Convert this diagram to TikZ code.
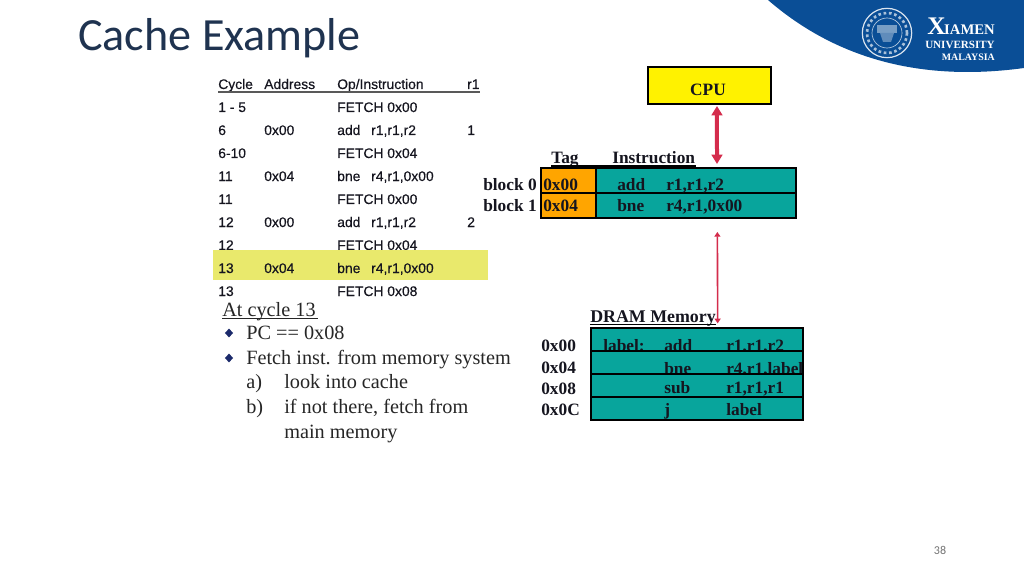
\documentclass[tikz,border=0pt]{standalone}
\usepackage{fontspec}
\setmainfont{Liberation Serif}
\newfontfamily\tabf[FakeBold=0.35]{Liberation Sans}
\newfontfamily\titlef{Carlito}
\usetikzlibrary{arrows.meta,fit,shapes.geometric}
\definecolor{teal1}{HTML}{08A59C}
\definecolor{org1}{HTML}{FFA500}
\definecolor{yel1}{HTML}{E9E96C}
\definecolor{red1}{HTML}{D42C4C}
\definecolor{ink}{HTML}{15151F}
\definecolor{blue1}{HTML}{0A4E96}
\definecolor{navy1}{HTML}{1B2A6B}
\definecolor{titlec}{HTML}{1F3350}
\tikzset{
  x=0.75pt,y=-0.75pt,
  txt/.style={anchor=base west,inner sep=0pt,text=ink},
  tab/.style={txt,font=\tabf\fontsize{10.4}{12}\selectfont},
  bold/.style={txt,font=\bfseries\fontsize{13}{15}\selectfont},
  body/.style={txt,font=\fontsize{15.2}{17}\selectfont,text=black!85},
  logot/.style={inner sep=0pt,text=white,font=\bfseries},
  box/.style={draw=black,line width=1.9pt},
  boxfit/.style={inner sep=0pt,outer sep=0pt},
  bullet/.style={diamond,fill=navy1,inner sep=0pt,minimum width=6.2pt,minimum height=6.8pt},
  rule/.style={line width=0.9pt},
  biga/.style={draw=red1,line width=3pt,{Triangle[length=7pt,width=8pt]}-{Triangle[length=7pt,width=8pt]}},
  smalla/.style={draw=red1,line width=1.2pt,{Triangle[length=3.5pt,width=4.5pt]}-{Triangle[length=3.5pt,width=4.5pt]}}
}
\begin{document}
\begin{tikzpicture}
\useasboundingbox (0,0) rectangle (1024,574);
\fill[white] (0,0) rectangle (1024,574);
% logo
\fill[blue1] (768,0) .. controls (820,45) and (900,85) .. (1024,68) -- (1024,0) -- cycle;
\node[circle,draw=white!85!blue1,line width=0.9pt,inner sep=0pt,minimum size=37pt] (seal) at (887,33) {};
\draw[white!65!blue1,line width=2pt,dotted] (seal.center) circle[radius=20];
\draw[white!70!blue1,line width=0.5pt] (seal.center) circle[radius=15];
\fill[white!45!blue1] (877,25) rectangle (897,33);
\fill[white!35!blue1] (880,33) -- (894,33) -- (891,42) -- (883,42) -- cycle;
\node[logot,anchor=base west,font=\bfseries\fontsize{19}{20}\selectfont] (lx) at (927,35) {X};
\node[logot,anchor=base east,font=\bfseries\fontsize{11}{12}\selectfont] (lxm) at (995,35) {IAMEN};
\node[logot,anchor=base east,font=\bfseries\fontsize{8.3}{10}\selectfont] (lu) at (995,49) {UNIVERSITY};
\node[logot,anchor=base east,font=\bfseries\fontsize{7.4}{10}\selectfont] (lm) at (995,61) {MALAYSIA};
% title
\node[anchor=base west,inner sep=0pt,text=titlec,font=\titlef\fontsize{34.6}{36}\selectfont] (title) at (78,51) {Cache Example};
% table
\node[tab] (h1) at (218,89) {Cycle};
\node[tab] (h2) at (264,89) {Address};
\node[tab] (h3) at (337,89) {Op/Instruction};
\node[tab] (h4) at (467,89) {r1};
\draw[rule,black!65] (218,92) -- (480,92);
\node[tab] (c1) at (218,112) {1 - 5};
\node[tab] (o1) at (337,112) {FETCH 0x00};
\node[tab] (c2) at (218,135) {6};
\node[tab] (a2) at (264,135) {0x00};
\node[tab] (o2) at (337,135) {add};
\node[tab] (p2) at (371,135) {r1,r1,r2};
\node[tab] (v2) at (467,135) {1};
\node[tab] (c3) at (218,158) {6-10};
\node[tab] (o3) at (337,158) {FETCH 0x04};
\node[tab] (c4) at (218,181) {11};
\node[tab] (a4) at (264,181) {0x04};
\node[tab] (o4) at (337,181) {bne};
\node[tab] (p4) at (371,181) {r4,r1,0x00};
\node[tab] (c5) at (218,204) {11};
\node[tab] (o5) at (337,204) {FETCH 0x00};
\node[tab] (c6) at (218,227) {12};
\node[tab] (a6) at (264,227) {0x00};
\node[tab] (o6) at (337,227) {add};
\node[tab] (p6) at (371,227) {r1,r1,r2};
\node[tab] (v6) at (467,227) {2};
\node[tab] (c7) at (218,250) {12};
\node[tab] (o7) at (337,250) {FETCH 0x04};
\fill[yel1] (213,250) rectangle (488,280);
\node[tab] (c8) at (218,273) {13};
\node[tab] (a8) at (264,273) {0x04};
\node[tab] (o8) at (337,273) {bne};
\node[tab] (p8) at (371,273) {r4,r1,0x00};
\node[tab] (c9) at (218,296) {13};
\node[tab] (o9) at (337,296) {FETCH 0x08};
% notes
\node[body] (n0) at (222,316) {At cycle 13};
\draw[line width=0.8pt,black!85] (222,318.5) -- (318,318.5);
\node[bullet] (b1) at (229,333) {};
\node[body] (n1) at (246,339) {PC == 0x08};
\node[bullet] (b2) at (229,358) {};
\node[body] (n2) at (246,364) {Fetch inst. from memory system};
\node[body] (n3) at (246,388) {a)};
\node[body] (n3b) at (284,388) {look into cache};
\node[body] (n4) at (246,413) {b)};
\node[body] (n4b) at (284,413) {if not there, fetch from};
\node[body] (n5) at (284,438) {main memory};
% CPU
\node[boxfit,box,fill=yellow,fit={(648,67)(771,104)}] (cpu) {};
\node[bold,anchor=base] (cpul) at (708,95.5) {CPU};
% cache
\node[bold] (tag) at (551,164) {Tag};
\node[bold] (ins) at (612,164) {Instruction};
\draw[line width=0.8pt,black] (551,166) -- (696,166);
\node[boxfit,fit={(540,168)(796,218)}] (cache) {};
\draw[box,fill=teal1] (596,168) rectangle (796,193);
\draw[box,fill=teal1] (596,193) rectangle (796,218);
\draw[box,fill=org1] (541,168) rectangle (596,193);
\draw[box,fill=org1] (541,193) rectangle (596,218);
\node[bold] (bl0) at (483,190.5) {block 0};
\node[bold] (bl1) at (483,211.5) {block 1};
\node[bold] (t0) at (543,190.5) {0x00};
\node[bold] (t1) at (543,211.5) {0x04};
\node[bold] (i0) at (617,190.5) {add};
\node[bold] (i0b) at (666,190.5) {r1,r1,r2};
\node[bold] (i1) at (617,211.5) {bne};
\node[bold] (i1b) at (666,211.5) {r4,r1,0x00};
% memory
\node[bold,font=\bfseries\fontsize{13.4}{15}\selectfont] (dram) at (590,322) {DRAM Memory};
\draw[line width=0.8pt,black] (590,324.5) -- (716,324.5);
\node[boxfit,fit={(591,328)(803,420)}] (mem) {};
\node[bold] (m0) at (541,351.5) {0x00};
\node[bold] (m1) at (541,373) {0x04};
\node[bold] (m2) at (541,394) {0x08};
\node[bold] (m3) at (541,415) {0x0C};
\draw[box,fill=teal1] (591,328) rectangle (803,351);
\node[bold] (r0a) at (603,351) {label:};
\node[bold] (r0b) at (664,351) {add};
\node[bold] (r0c) at (726,351) {r1,r1,r2};
\draw[box,fill=teal1] (591,351) rectangle (803,374);
\node[bold] (r1b) at (664,374) {bne};
\node[bold] (r1c) at (726,374) {r4,r1,label};
\draw[box,fill=teal1] (591,374) rectangle (803,397);
\draw[box] (591,351) -- (591,374) (803,351) -- (803,374);
\node[bold] (r2b) at (664,393) {sub};
\node[bold] (r2c) at (726,393) {r1,r1,r1};
\draw[box,fill=teal1] (591,397) rectangle (803,420);
\node[bold] (r3b) at (664,415) {j};
\node[bold] (r3c) at (726,415) {label};
% arrows
\draw[biga,shorten <=1.5pt,shorten >=3pt] ([xshift=5.6pt]cpu.south) -- ([xshift=36.75pt]cache.north);
\draw[smalla,shorten <=10.5pt,shorten >=3.5pt] ([xshift=37pt]cache.south) -- ([xshift=15.5pt]mem.north);
% page number
\node[inner sep=0pt,text=black!55,font=\titlef\fontsize{9}{10}\selectfont] (pg) at (940,550) {38};
\end{tikzpicture}
\end{document}
